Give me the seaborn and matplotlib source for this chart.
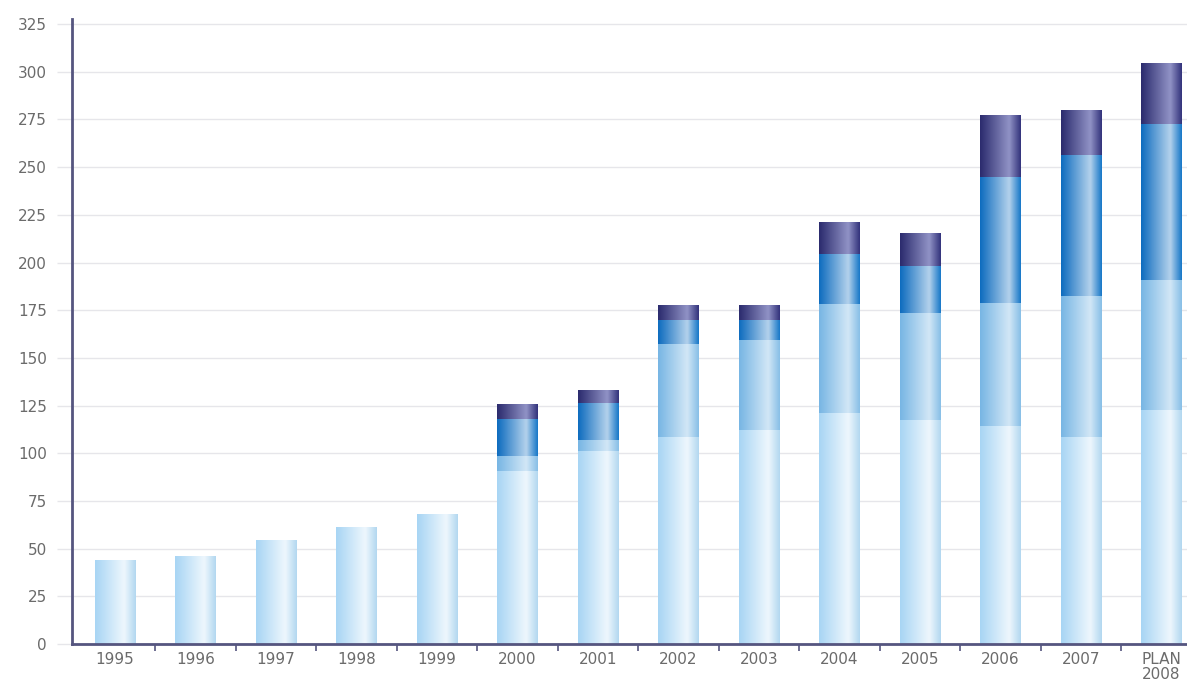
#!/usr/bin/env python3
"""Stacked bars 1995 - plan 2008 with shaded (cylinder-like) segments."""

import matplotlib as mpl
import matplotlib.pyplot as plt
import numpy as np
import pandas as pd
import seaborn as sns
from matplotlib.colors import LinearSegmentedColormap

mpl.use("Agg")

YEARS = ["1995", "1996", "1997", "1998", "1999", "2000", "2001", "2002",
         "2003", "2004", "2005", "2006", "2007", "PLAN\n2008"]
SEG1 = [44, 46, 54.5, 61, 68, 90.5, 101, 108, 112, 121, 117, 114, 108.5, 122.5]
SEG2 = [0, 0, 0, 0, 0, 7.5, 5.5, 49, 47, 57, 56.5, 65, 73.5, 68]
SEG3 = [0, 0, 0, 0, 0, 19.5, 19.5, 13, 11, 26, 24.5, 66, 74, 82]
SEG4 = [0, 0, 0, 0, 0, 8, 7, 7.5, 7.5, 17, 17, 32, 24, 31.5]
YTICKS = list(range(0, 326, 25))

# left edge, highlight, right edge for each layer (bottom to top)
SHADES = [
    ("#a8d5f4", "#eef7fd", "#b3d8f0"),
    ("#78b6e4", "#d2e7f6", "#88bfe7"),
    ("#0e6cbf", "#b4d2ec", "#1878c8"),
    ("#2b2b6e", "#9193c6", "#34347c"),
]

sns.set_style("white")
plt.rcParams["font.family"] = ["DejaVu Sans"]


def shade_bars(ax, patches, shades):
    """Paint a horizontal gradient over each bar patch."""
    cmap = LinearSegmentedColormap.from_list(
        "shade", [(0, shades[0]), (0.72, shades[1]), (1, shades[2])])
    grad = np.linspace(0, 1, 64).reshape(1, -1)
    for p in patches:
        x0, y0 = p.get_x(), p.get_y()
        w, h = p.get_width(), p.get_height()
        if h <= 0:
            continue
        p.set_facecolor(shades[1])
        ax.imshow(grad, cmap=cmap, aspect="auto", interpolation="bicubic",
                  extent=(x0, x0 + w, y0, y0 + h), zorder=p.get_zorder() + 0.1)


def main():
    df = pd.DataFrame({"year": YEARS, "s1": SEG1, "s2": SEG2,
                       "s3": SEG3, "s4": SEG4})
    cum = df[["s1", "s2", "s3", "s4"]].cumsum(axis=1)

    fig = plt.figure(figsize=(11.87, 6.89), dpi=100)
    ax = fig.add_axes([0.0607, 0.0653, 0.9393, 0.9072])

    # draw tallest cumulative first, smaller ones on top of it
    layers = []
    for i, col in enumerate(["s4", "s3", "s2", "s1"]):
        n_before = len(ax.patches)
        sns.barplot(x=df["year"], y=cum[col], color=SHADES[3 - i][1],
                    width=0.5, ax=ax, zorder=2 + i, linewidth=0)
        layers.append((3 - i, ax.patches[n_before:]))
    for idx, patches in layers:
        lower = cum.iloc[:, idx - 1] if idx > 0 else None
        for j, p in enumerate(patches):
            if lower is not None:
                base = lower.iloc[j]
                p.set_y(base)
                p.set_height(p.get_height() - base)
        shade_bars(ax, patches, SHADES[idx])

    ax.set_xlim(-0.534, 13.32)
    ax.set_ylim(0, 327.7)
    ax.set_yticks(YTICKS)
    ax.set_xlabel("")
    ax.set_ylabel("")
    ax.yaxis.grid(True, color="#e6e6ea", linewidth=1)
    ax.set_axisbelow(True)

    for side in ["top", "right"]:
        ax.spines[side].set_visible(False)
    for side in ["left", "bottom"]:
        ax.spines[side].set_color("#55557f")
        ax.spines[side].set_linewidth(2)
        ax.spines[side].set_zorder(10)

    ax.tick_params(axis="y", left=True, length=11, width=1,
                   color="#e6e6ea", pad=7,
                   labelsize=11, labelcolor="#6b6b6b")
    ax.tick_params(axis="x", which="major", bottom=True, length=0, pad=6,
                   labelsize=11, labelcolor="#6b6b6b")
    ax.set_xticks(np.arange(len(YEARS) - 1) + 0.5, minor=True)
    ax.tick_params(axis="x", which="minor", bottom=True, length=5, width=1.2,
                   color="#55557f", direction="out")
    for lbl in ax.get_xticklabels():
        lbl.set_linespacing(0.95)

    fig.savefig("out.png", dpi=100)


if __name__ == "__main__":
    main()
